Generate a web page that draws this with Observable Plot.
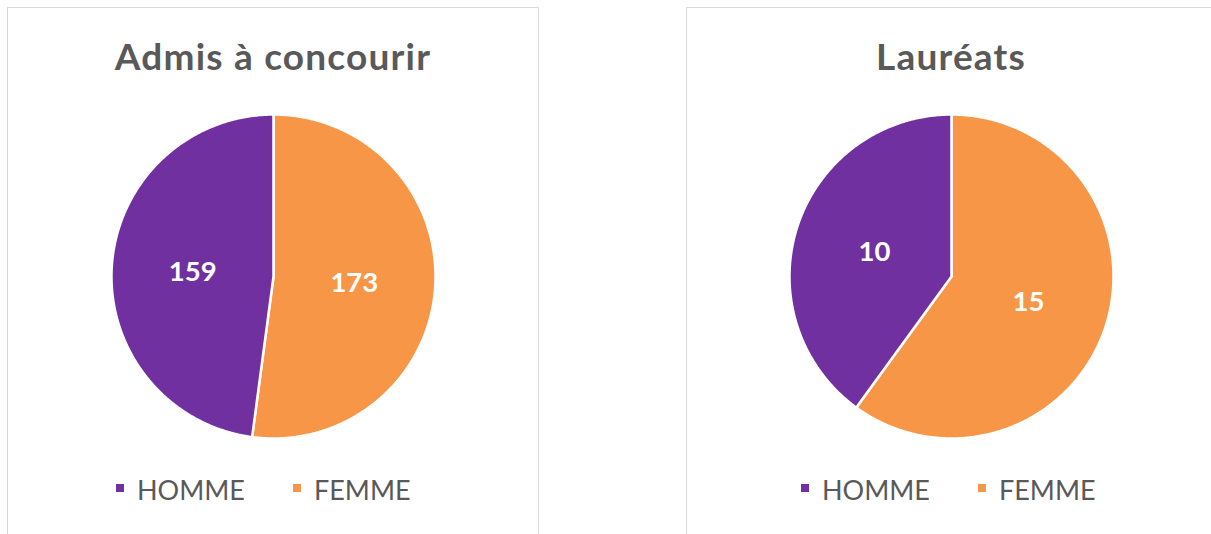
<!DOCTYPE html>
<html>
<head>
<meta charset="utf-8">
<script src="https://cdn.jsdelivr.net/npm/d3@7"></script>
<script src="https://cdn.jsdelivr.net/npm/@observablehq/plot@0.6"></script>
<style>
  html, body { margin: 0; padding: 0; background: #fff; }
  body { width: 1211px; height: 534px; overflow: hidden; position: relative; font-family: Lato, "Open Sans", sans-serif; }
  .panel { position: absolute; top: 7px; height: 560px; border: 1.5px solid #d9d9d9; box-sizing: border-box; }
  .title { position: absolute; color: #595959; font-weight: 700; font-size: 37px; letter-spacing: 1.2px; white-space: nowrap; transform: translate(-50%, -50%); }
  .chart { position: absolute; }
  .leg { position: absolute; color: #595959; font-size: 27px; white-space: nowrap; transform: translateY(-50%); line-height: 1; }
  .sw { position: absolute; width: 8px; height: 8px; transform: translateY(-50%); }
</style>
</head>
<body>
<div class="panel" style="left:7px; width:532px;"></div>
<div class="panel" style="left:686px; width:540px;"></div>
<script>
// ---- data ----
const categories = ["HOMME", "FEMME"];
const colors = ["#7030A0", "#F79646"];
const titles = ["Admis à concourir", "Lauréats"];
const admisValues = [159, 173];     // HOMME, FEMME
const laureatsValues = [10, 15];    // HOMME, FEMME

const charts = [
  {title: titles[0], values: admisValues, cx: 273, cy: 276, legend: [116, 293]},
  {title: titles[1], values: laureatsValues, cx: 951, cy: 276, legend: [801, 978]}
];

const R = 162;          // pie radius in px
const W = 380, H = 360; // svg size

charts.forEach(c => {
  const rows = categories.map((cat, i) => ({cat, value: c.values[i]}));
  // Excel draws FEMME first clockwise from 12 o'clock
  const order = [rows[1], rows[0]];
  const arcs = d3.pie().sort(null).value(d => d.value).startAngle(0).endAngle(2 * Math.PI)(order);

  const pts = [];
  const labels = [];
  arcs.forEach(a => {
    const cat = a.data.cat;
    pts.push({cat, x: 0, y: 0});
    const n = Math.max(2, Math.ceil((a.endAngle - a.startAngle) / (Math.PI / 360)));
    for (let k = 0; k <= n; k++) {
      const t = a.startAngle + (a.endAngle - a.startAngle) * k / n;
      pts.push({cat, x: Math.sin(t), y: Math.cos(t)});
    }
    pts.push({cat, x: 0, y: 0});
    const m = (a.startAngle + a.endAngle) / 2;
    labels.push({cat, value: a.data.value, x: 0.5 * Math.sin(m), y: 0.5 * Math.cos(m)});
  });

  const svg = Plot.plot({
    width: W, height: H, margin: 0,
    style: {fontFamily: "Lato, 'Open Sans', sans-serif", background: "transparent", overflow: "visible"},
    x: {domain: [-(W / 2) / R, (W / 2) / R], axis: null},
    y: {domain: [-(H / 2) / R, (H / 2) / R], axis: null},
    color: {domain: categories, range: colors},
    marks: [
      Plot.line(pts, {x: "x", y: "y", z: "cat", fill: "cat", stroke: "white", strokeWidth: 2.5, strokeLinejoin: "round", curve: "linear"}),
      Plot.text(labels, {x: "x", y: "y", dy: 1, text: d => String(d.value), fill: "white", fontSize: 27.5, fontWeight: "bold"})
    ]
  });
  const wrap = document.createElement("div");
  wrap.className = "chart";
  wrap.style.left = (c.cx - W / 2) + "px";
  wrap.style.top = (c.cy - H / 2) + "px";
  wrap.appendChild(svg);
  document.body.appendChild(wrap);

  const t = document.createElement("div");
  t.className = "title";
  t.textContent = c.title;
  t.style.left = c.cx + "px";
  t.style.top = "55px";
  document.body.appendChild(t);

  categories.forEach((cat, i) => {
    const sw = document.createElement("div");
    sw.className = "sw";
    sw.style.background = colors[i];
    sw.style.left = c.legend[i] + "px";
    sw.style.top = "488px";
    document.body.appendChild(sw);
    const lab = document.createElement("div");
    lab.className = "leg";
    lab.textContent = cat;
    lab.style.left = (c.legend[i] + 21) + "px";
    lab.style.top = "489px";
    document.body.appendChild(lab);
  });
});
</script>
</body>
</html>
